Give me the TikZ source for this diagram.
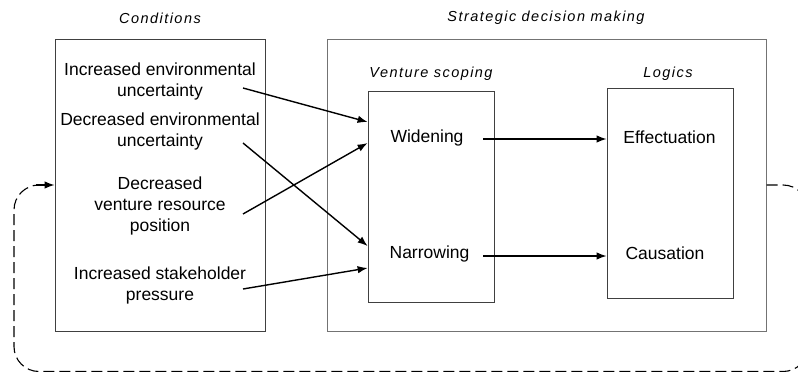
\documentclass[tikz,border=0pt]{standalone}
\usepackage{fontspec}
\setmainfont{Liberation Sans}
\newfontfamily\trk[LetterSpace=10]{Liberation Sans}
\usetikzlibrary{arrows.meta}
\begin{document}
\begin{tikzpicture}[x=1pt,y=-1pt,
  box/.style={draw=black!75, line width=0.8pt, inner sep=0pt, rectangle},
  obox/.style={draw=black!55, line width=1pt, inner sep=0pt, rectangle},
  txt/.style={font=\fontsize{17.5}{21}\selectfont, align=center, inner sep=0pt},
  ttl/.style={font=\fontsize{14.5}{17}\selectfont\trk\itshape, inner sep=0pt},
  arr/.style={-{Latex[length=10pt,width=7.5pt]}, line width=1.4pt},
  loopline/.style={dash pattern=on 11pt off 5pt, line width=1.1pt, rounded corners=25pt}]
\useasboundingbox (0,0) rectangle (798,372);
% boxes
\node[box, minimum width=210pt, minimum height=292pt] (cond) at (160,185) {};
\node[obox, minimum width=439pt, minimum height=292pt] (strat) at (546.5,185) {};
\node[box, minimum width=126pt, minimum height=211pt] (vent) at (431,196.5) {};
\node[box, minimum width=126pt, minimum height=210pt] (logic) at (670,193) {};
% titles
\node[ttl] (tcond) at (160,18) {Conditions};
\node[ttl] (tstrat) at (546,18) {Strategic decision making};
\node[ttl] (tvent) at (431,74) {Venture scoping};
\node[ttl] (tlogic) at (668,74) {Logics};
% condition texts
\node[txt] (c1) at (160,81.5) {Increased environmental\\uncertainty};
\node[txt] (c2) at (160,131) {Decreased environmental\\uncertainty};
\node[txt] (c3) at (160,206) {Decreased\\venture resource\\position};
\node[txt] (c4) at (160,285.5) {Increased stakeholder\\pressure};
% inner texts
\node[txt] (wid) at (427,137.5) {Widening};
\node[txt] (nar) at (429.5,253.5) {Narrowing};
\node[txt] (eff) at (669.5,137.5) {Effectuation};
\node[txt] (cau) at (665,253.5) {Causation};
% connector end points
\coordinate (s1) at (243,88);
\coordinate (s2) at (243,143);
\coordinate (s3) at (243,214);
\coordinate (s4) at (243,289);
\coordinate (e1) at (vent.west |- 0,122);
\coordinate (e2) at (vent.west |- 0,246);
\coordinate (e3) at (vent.west |- 0,143);
\coordinate (e4) at (vent.west |- 0,268);
\coordinate (w1) at (483,139);
\coordinate (n1) at (483,256);
\coordinate (w2) at (logic.west |- 0,139);
\coordinate (n2) at (logic.west |- 0,256);
\draw[arr] (s1) -- (e1);
\draw[arr] (s2) -- (e2);
\draw[arr] (s3) -- (e3);
\draw[arr] (s4) -- (e4);
\draw[arr] (w1) -- (w2);
\draw[arr] (n1) -- (n2);
% feedback loop
\coordinate (lo) at (strat.east |- 0,185);
\coordinate (li) at (cond.west |- 0,185);
\draw[loopline] (lo) -| (808,371.5) -| (14,185) -- ([xshift=-9pt]li);
\draw[arr] ([xshift=-19pt]li) -- (li);
\end{tikzpicture}
\end{document}
